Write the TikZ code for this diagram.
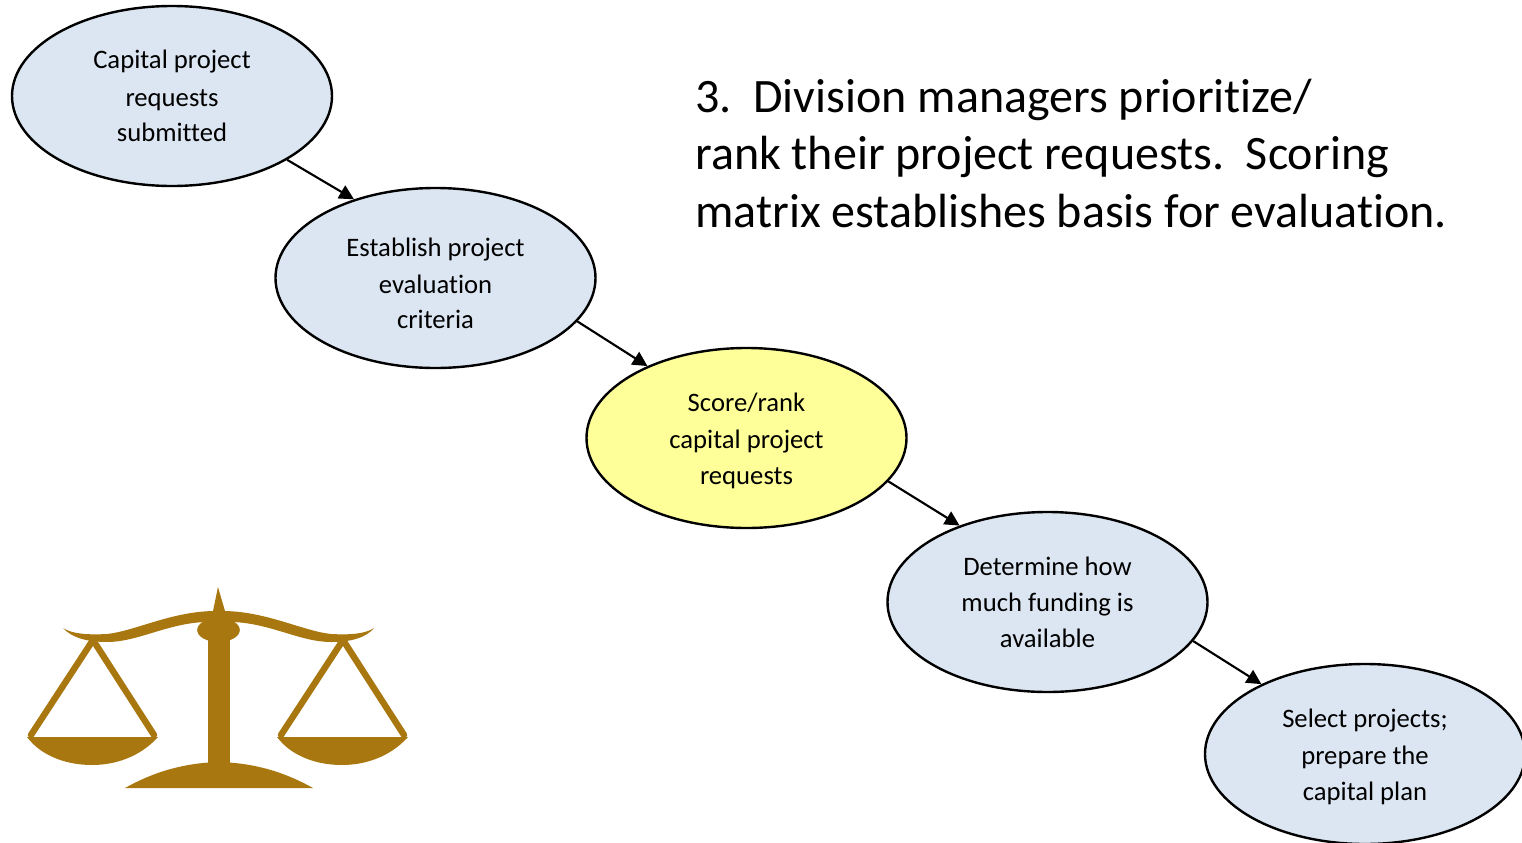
\documentclass[tikz,border=0pt]{standalone}
\usepackage{fontspec}
\setmainfont[Ligatures=NoCommon]{Carlito}
\usetikzlibrary{shapes.geometric,arrows.meta}
\definecolor{paleblue}{HTML}{DCE6F2}
\definecolor{paleyellow}{HTML}{FFFF99}
\definecolor{gold}{HTML}{A9770F}
\newcommand{\lowerby}[1]{\rule{0pt}{#1pt}}
\tikzset{
  stage/.style={ellipse,draw=black,line width=1.8pt,fill=paleblue,minimum width=240pt,minimum height=135pt,inner sep=0pt,align=center,font=\fontsize{20}{27}\selectfont},
  flow/.style={draw=black,line width=1.6pt,-{Triangle[length=11pt,width=11pt]}},
  gilt/.style={fill=gold,draw=none},
  giltline/.style={draw=gold,line width=4.8pt,line cap=round}
}
\begin{document}
\begin{tikzpicture}[x=0.75pt,y=-0.75pt]
\useasboundingbox (0,0) rectangle (1522,843);
\node[stage] (e1) at (172,96) {Capital project\\[1pt]requests\\[-0.5pt]submitted};
\node[stage] (e2) at (435.5,278) {\lowerby{22}Establish project\\[1pt]evaluation\\[-0.5pt]criteria};
\node[stage,fill=paleyellow] (e3) at (746.5,438) {\lowerby{18}Score/rank\\[1pt]capital project\\[-0.5pt]requests};
\node[stage] (e4) at (1047.5,602) {Determine how\\[0pt]much funding is\\[0pt]available};
\node[stage] (e5) at (1365,754) {\lowerby{18}Select projects;\\[1pt]prepare the\\[-0.5pt]capital plan};
\draw[flow] (e1.-29.5) -- (e2.136.6);
\draw[flow] (e2.-17) -- (e3.144.5);
\draw[flow] (e3.-17) -- (e4.139.5);
\draw[flow] (e4.-15) -- (e5.146);
\node[anchor=north west,inner sep=0pt,align=left,font=\fontsize{36}{43.3}\selectfont] (note) at (695,78.5) {3.\ \ Division managers prioritize/\\rank their project requests.\ \ Scoring\\matrix establishes basis for evaluation.};
% scales: beam, spike, knob, post and base
\fill[gilt] (63,628) .. controls (72,634) and (88,635) .. (107,634) .. controls (135,631) and (170,612) .. (213,611) -- (218,587) -- (225,611) .. controls (268,612) and (303,631) .. (331,634) .. controls (350,635) and (365,634) .. (374,628) .. controls (366,638) and (350,642) .. (331,642) .. controls (300,642) and (270,623) .. (232,622) -- (206,622) .. controls (168,623) and (138,642) .. (107,642) .. controls (88,642) and (72,638) .. (63,628) -- cycle;
\fill[gilt] (218.5,630) ellipse [x radius=16pt,y radius=9pt];
\fill[gilt] (208,630) rectangle (230,765);
\fill[gilt] (125,788) .. controls (150,774) and (180,763) .. (219,762) .. controls (258,763) and (288,774) .. (313,788) -- cycle;
% left pan
\draw[giltline] (93,640) -- (31,735) (93,640) -- (154,735);
\fill[gilt] (27,737) -- (158,737) .. controls (140,757) and (115,765) .. (92,765) .. controls (68,765) and (42,757) .. (27,737) -- cycle;
% right pan
\draw[giltline] (343,640) -- (281,735) (343,640) -- (404,735);
\fill[gilt] (277,737) -- (408,737) .. controls (390,757) and (365,765) .. (342,765) .. controls (318,765) and (292,757) .. (277,737) -- cycle;
\end{tikzpicture}
\end{document}
